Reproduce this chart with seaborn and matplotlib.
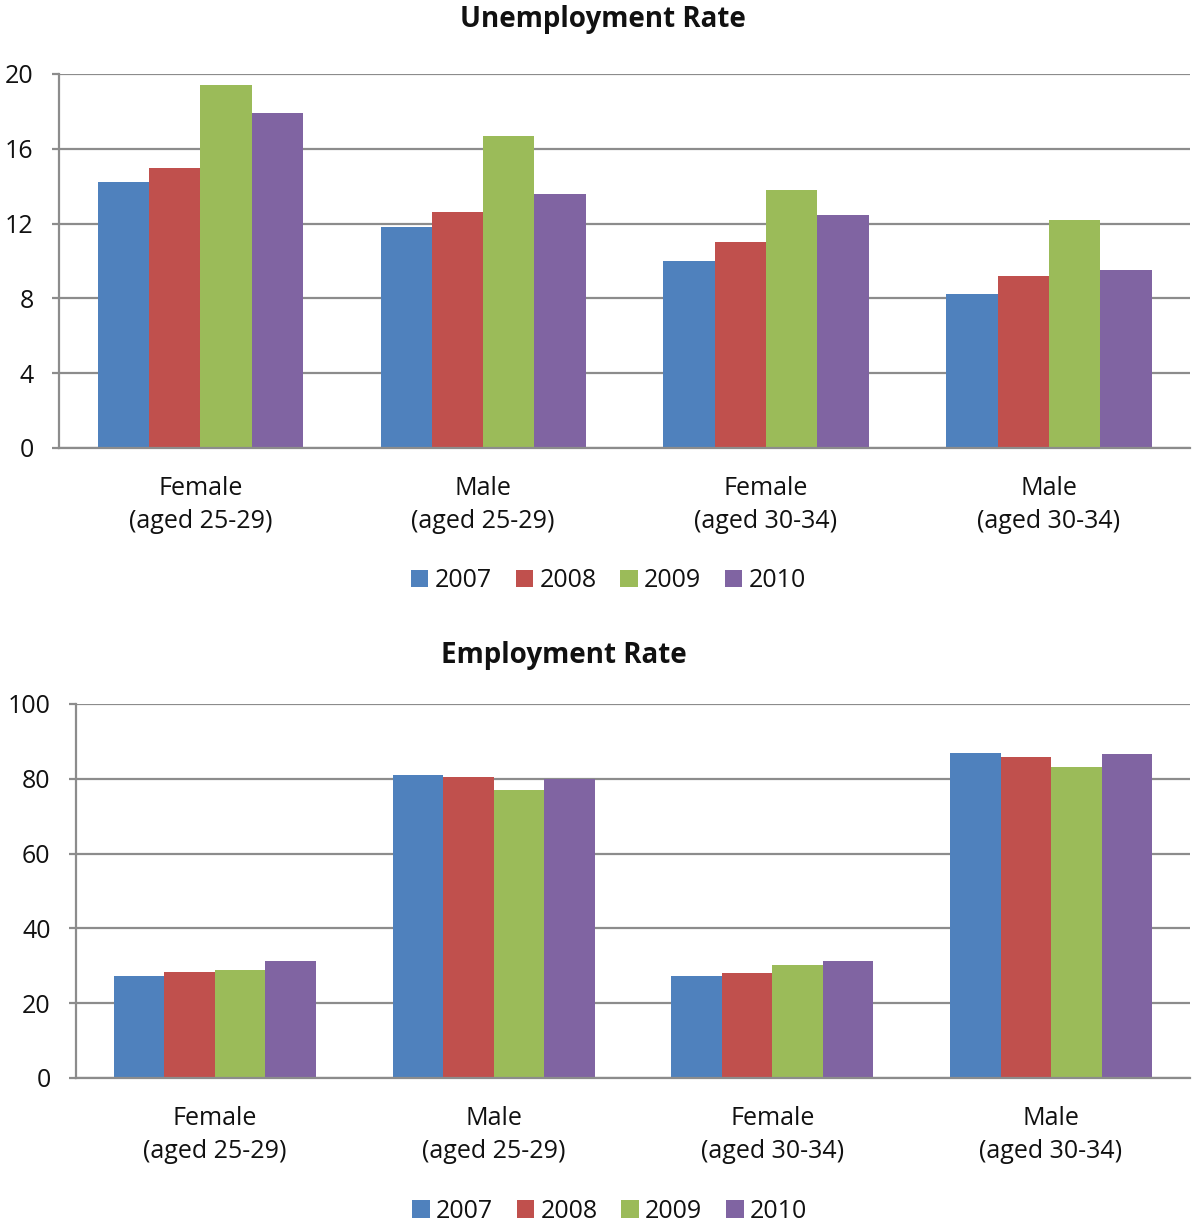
import pandas as pd
import matplotlib.pyplot as plt
import seaborn as sns

groups = ["Female\n(aged 25-29)", "Male\n(aged 25-29)",
          "Female\n(aged 30-34)", "Male\n(aged 30-34)"]
years = ["2007", "2008", "2009", "2010"]

# unemployment rate by year
unemp_2007 = [14.25, 11.8, 10.0, 8.25]
unemp_2008 = [14.95, 12.6, 11.0, 9.2]
unemp_2009 = [19.4, 16.7, 13.8, 12.2]
unemp_2010 = [17.9, 13.6, 12.45, 9.5]

# employment rate by year
emp_2007 = [27.2, 81.0, 27.3, 87.0]
emp_2008 = [28.4, 80.6, 28.0, 85.9]
emp_2009 = [28.8, 77.1, 30.1, 83.2]
emp_2010 = [31.2, 79.9, 31.2, 86.6]

colors = ["#4F81BD", "#C0504D", "#9BBB59", "#8064A2"]


def long_df(series):
    rows = []
    for yr, vals in zip(years, series):
        for g, v in zip(groups, vals):
            rows.append({"group": g, "year": yr, "rate": v})
    return pd.DataFrame(rows)


df_u = long_df([unemp_2007, unemp_2008, unemp_2009, unemp_2010])
df_e = long_df([emp_2007, emp_2008, emp_2009, emp_2010])

sns.set_style("white")
plt.rcParams["font.family"] = ["Open Sans", "DejaVu Sans"]
plt.rcParams["text.color"] = "#111111"
plt.rcParams["xtick.color"] = "#111111"
plt.rcParams["ytick.color"] = "#111111"

fig = plt.figure(figsize=(12, 12.29), dpi=100)
ax1 = fig.add_axes([0.049, 0.6355, 0.943, 0.3043])
ax2 = fig.add_axes([0.063, 0.1229, 0.929, 0.3043])

grid_col = "#8c8c8c"


def draw(ax, df, ymax, step):
    sns.barplot(data=df, x="group", y="rate", hue="year", hue_order=years,
                palette=colors, width=0.725, saturation=1, edgecolor="none",
                ax=ax, legend=True)
    ax.set_xlim(-0.5, 3.5)
    ax.set_ylim(0, ymax)
    ax.set_yticks(range(0, ymax + 1, step))
    ax.set_axisbelow(True)
    ax.yaxis.grid(True, color=grid_col, linewidth=1.6)
    for s in ["top", "right"]:
        ax.spines[s].set_visible(False)
    for s in ["left", "bottom"]:
        ax.spines[s].set_color(grid_col)
        ax.spines[s].set_linewidth(1.6)
    ax.set_xlabel("")
    ax.set_ylabel("")
    ax.tick_params(axis="y", labelsize=18, length=5, color=grid_col, width=1.6,
                   pad=13, left=True, labelcolor="#111111")
    ax.tick_params(axis="x", labelsize=18, length=0, pad=20, labelcolor="#111111")
    for lab in ax.get_xticklabels():
        lab.set_linespacing(1.45)
    ax.get_legend().remove()


draw(ax1, df_u, 20, 4)
draw(ax2, df_e, 100, 20)

handles, labels = ax1.get_legend_handles_labels()
for ypos, xpos in [(1 - 581 / 1229, 0.507), (1 - 1211 / 1229, 0.508)]:
    fig.legend(handles, labels, loc="center", bbox_to_anchor=(xpos, ypos),
               ncol=4, frameon=False, fontsize=18, handlelength=0.7,
               handleheight=0.7, handletextpad=0.25, columnspacing=0.95)

fig.text(0.5025, 1 - 19 / 1229, "Unemployment Rate", ha="center", va="center",
         fontsize=20, fontweight="bold")
fig.text(0.47, 1 - 656 / 1229, "Employment Rate", ha="center", va="center",
         fontsize=20, fontweight="bold")

fig.savefig("out.png", dpi=100)
